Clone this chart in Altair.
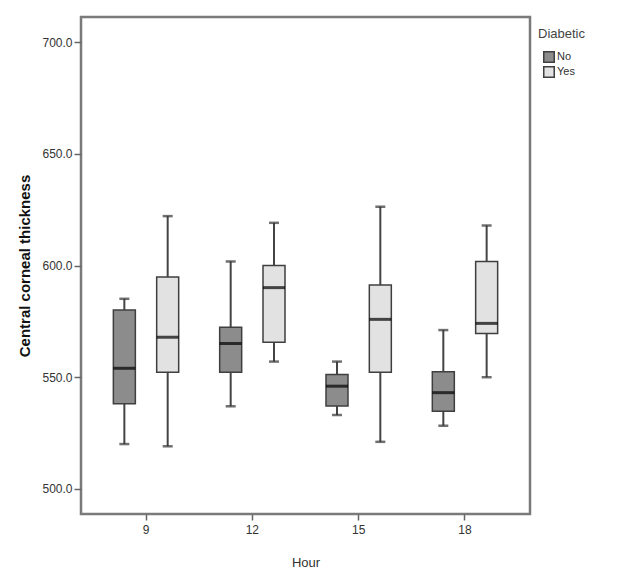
import altair as alt
import pandas as pd

hours = [9, 9, 12, 12, 15, 15, 18, 18]
diabetic = ["No", "Yes", "No", "Yes", "No", "Yes", "No", "Yes"]
mins = [520.1, 519.1, 537.0, 557.0, 533.1, 521.1, 528.3, 550.0]
q1s = [538.1, 552.2, 552.2, 565.7, 537.1, 552.2, 534.8, 569.6]
medians = [554.0, 567.9, 565.1, 590.1, 546.0, 575.9, 543.1, 574.1]
q3s = [580.1, 594.8, 572.4, 600.0, 551.2, 591.3, 552.5, 601.8]
maxs = [585.1, 622.1, 601.8, 619.1, 557.0, 626.3, 571.1, 617.9]

df = pd.DataFrame({
    "Hour": hours, "Diabetic": diabetic, "min": mins, "q1": q1s,
    "median": medians, "q3": q3s, "max": maxs,
})

FONT = "Liberation Sans"

x = alt.X("Hour:O", sort=[9, 12, 15, 18],
          scale=alt.Scale(paddingInner=0.185, paddingOuter=0.204),
          axis=alt.Axis(title="Hour", labelAngle=0, labelFontSize=12,
                        labelColor="#333", tickColor="#666", tickSize=6,
                        tickWidth=1.5, labelPadding=4, titleFontSize=13,
                        titleFontWeight="normal", titleColor="#333",
                        titlePadding=21, domain=False))
xo = alt.XOffset("Diabetic:N", sort=["No", "Yes"])
yscale = alt.Scale(domain=[488.8, 711.2], nice=False, zero=False)
y_axis = alt.Axis(title="Central corneal thickness", values=[500, 550, 600, 650, 700],
                  format=".1f", labelFontSize=12, labelColor="#333",
                  tickColor="#666", tickSize=7, tickWidth=1.5, labelPadding=2,
                  titleFontSize=15, titleFontWeight="bold", titleColor="#111",
                  titlePadding=9, domain=False, grid=False)

base = alt.Chart(df)

whisker = base.mark_rule(color="#444", strokeWidth=2).encode(
    x=x, xOffset=xo,
    y=alt.Y("min:Q", scale=yscale, axis=y_axis), y2="max:Q")
cap_lo = base.mark_tick(color="#333", size=10, thickness=2.5).encode(
    x=x, xOffset=xo, y=alt.Y("min:Q", scale=yscale))
cap_hi = base.mark_tick(color="#333", size=10, thickness=2.5).encode(
    x=x, xOffset=xo, y=alt.Y("max:Q", scale=yscale))
box = base.mark_bar(size=22, stroke="#3f3f3f", strokeWidth=1.5).encode(
    x=x, xOffset=xo,
    y=alt.Y("q1:Q", scale=yscale), y2="q3:Q",
    color=alt.Color("Diabetic:N", sort=["No", "Yes"],
                    scale=alt.Scale(domain=["No", "Yes"], range=["#8c8c8c", "#e2e2e2"]),
                    legend=alt.Legend(title="Diabetic", orient="none",
                                      legendX=457, legendY=11,
                                      symbolType="square", symbolSize=110,
                                      symbolStrokeColor="#3f3f3f",
                                      symbolStrokeWidth=1.5, symbolOpacity=1,
                                      symbolOffset=5,
                                      titleFontSize=13, titleFontWeight="normal",
                                      titleColor="#444", titlePadding=10,
                                      labelFontSize=11, labelColor="#333",
                                      rowPadding=-3, labelOffset=2)))
med = base.mark_tick(color="#000", size=22, thickness=3).encode(
    x=x, xOffset=xo, y=alt.Y("median:Q", scale=yscale))

chart = alt.layer(whisker, cap_lo, cap_hi, box, med).properties(
    width=449, height=497,
    autosize=alt.AutoSizeParams(type="none"),
    padding={"left": 73, "top": 9, "right": 75, "bottom": 60},
).configure(
    font=FONT, background="white",
    view=alt.ViewConfig(stroke="#7a7a7a", strokeWidth=2.5),
)

chart.save("out.html", embed_options={"renderer": "svg", "actions": False})
